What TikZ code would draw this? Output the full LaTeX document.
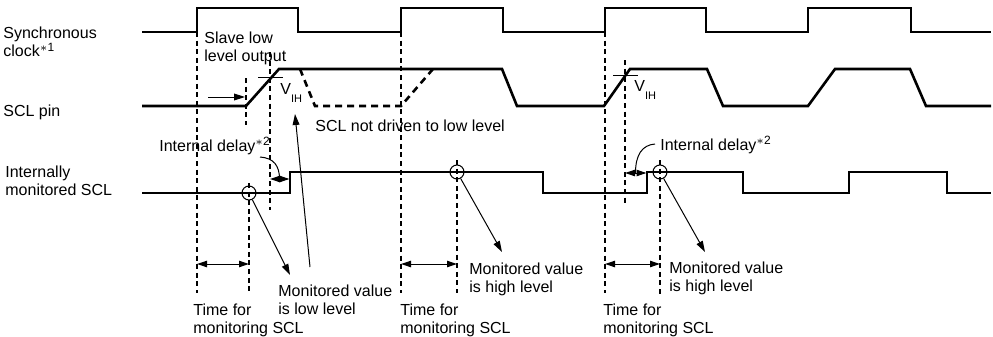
\documentclass[tikz,border=0pt]{standalone}
\usepackage{fontspec}
\setmainfont{Liberation Sans}
\usetikzlibrary{arrows.meta,positioning,calc}

\begin{document}
\begin{tikzpicture}[
  x=0.5pt, y=-0.5pt,
  lbl/.style={font=\fontsize{8}{9}\selectfont, align=left, inner sep=0pt, anchor=west},
  sig/.style={line width=1.3pt, line join=miter},
  sigdash/.style={sig, dash pattern=on 3.5pt off 2.5pt},
  guide/.style={line width=0.55pt, dash pattern=on 2.5pt off 1.8pt},
  thin/.style={line width=0.5pt},
  arr/.style={thin, -{Triangle[length=5.5pt,width=3.4pt]}},
  dbl/.style={thin, {Triangle[length=5pt,width=3.2pt]}-{Triangle[length=5pt,width=3.2pt]}},
  mon/.style={draw, circle, line width=0.5pt, minimum size=7pt, inner sep=0pt}]

\useasboundingbox (0,0) rectangle (993,337);

% signal names
\node[lbl] (clk) at (3,42) {Synchronous\\clock\textsuperscript{$\ast$1}};
\node[lbl] (pin) at (3,112) {SCL pin};
\node[lbl] (int) at (5,181) {Internally\\monitored SCL};

% waveforms
\draw[sig] (142,32) -- (197,32) -- (197,8) -- (298,8) -- (298,32) -- (401,32) -- (401,8)
  -- (503,8) -- (503,32) -- (605,32) -- (605,8) -- (706,8) -- (706,32) -- (808,32)
  -- (808,8) -- (911,8) -- (911,32) -- (991,32);
\draw[sig] (142,106) -- (246,106) -- (279,69) -- (502,69) -- (517,106) -- (604,106)
  -- (630,69) -- (707,69) -- (723,106) -- (808,106) -- (835,69) -- (910,69)
  -- (926,106) -- (991,106);
\draw[sigdash] (300,69) -- (315,106) -- (401,106) -- (433,69);
\draw[sig] (142,193) -- (290,193) -- (290,172) -- (543,172) -- (543,193) -- (647,193)
  -- (647,172) -- (743,172) -- (743,193) -- (849,193) -- (849,172) -- (947,172)
  -- (947,193) -- (991,193);

% V_IH thresholds
\draw[thin] (258,77) -- (283,77);
\draw[thin] (613,75) -- (638,75);
\node[lbl] (vih1) at (280,93) {V\raisebox{-4.3pt}{\fontsize{5.5}{6}\selectfont IH}};
\node[lbl] (vih2) at (634,90) {V\raisebox{-4.3pt}{\fontsize{5.5}{6}\selectfont IH}};

% monitoring points
\node[mon] (m1) at (249,193) {};
\node[mon] (m2) at (457,172) {};
\node[mon] (m3) at (660,172) {};

% guide lines
\draw[guide] (197,32) -- (197,293);
\draw[guide] (246,78) -- (246,125);
\draw[guide] (270,52) -- (270,210);
\draw[guide] (249,183) -- (249,293);
\draw[guide] (401,32) -- (401,293);
\draw[guide] (457,160) -- (457,293);
\draw[guide] (605,32) -- (605,293);
\draw[guide] (625,60) -- (625,203);
\draw[guide] (660,160) -- (660,297);

% texts
\node[lbl] (slave) at (204,48) {Slave low\\level output};
\node[lbl] (nodrv) at (315,126) {SCL not driven to low level};
\node[lbl] (dly1) at (159,146) {Internal delay\textsuperscript{$\ast$2}};
\node[lbl] (dly2) at (660,145) {Internal delay\textsuperscript{$\ast$2}};
\node[lbl] (tm1) at (193,320) {Time for\\monitoring SCL};
\node[lbl] (tm2) at (400,320) {Time for\\monitoring SCL};
\node[lbl] (tm3) at (603,320) {Time for\\monitoring SCL};
\node[lbl] (lo) at (278,300) {Monitored value\\is low level};
\node[lbl] (hi1) at (469,279) {Monitored value\\is high level};
\node[lbl] (hi2) at (669,278) {Monitored value\\is high level};

% arrow end points
\coordinate (sa) at (208,97);
\coordinate (sb) at (245,97);
\coordinate (ta1) at (197,264);
\coordinate (tb1) at (249,264);
\coordinate (ta2) at (401,264);
\coordinate (tb2) at (457,264);
\coordinate (ta3) at (605,264);
\coordinate (tb3) at (660,264);
\coordinate (da1) at (270,179);
\coordinate (db1) at (289.5,179);
\coordinate (da2) at (625,173);
\coordinate (db2) at (646.5,173);
\coordinate (dm1) at (279.5,179);
\coordinate (dm2) at (635.5,173);
\coordinate (ds1) at (260,157);
\coordinate (ds2) at (655,144);
\coordinate (lo1) at (290,275);
\coordinate (lo2) at (310,267);
\coordinate (up) at (295,114);
\coordinate (hiend1) at (502,252);
\coordinate (hiend2) at (705,252);

% arrows
\draw[arr] (sa) -- (sb);
\draw[dbl] (ta1) -- (tb1);
\draw[dbl] (ta2) -- (tb2);
\draw[dbl] (ta3) -- (tb3);
\draw[dbl] (da1) -- (db1);
\draw[dbl] (da2) -- (db2);
\draw[thin] (ds1) .. controls (274,158) and (279.5,166) .. (dm1);
\draw[thin] (ds2) .. controls (642,145) and (635.5,155) .. (dm2);
\draw[arr] (m1) -- (lo1);
\draw[arr] (lo2) -- (up);
\draw[arr] (m2) -- (hiend1);
\draw[arr] (m3) -- (hiend2);
\end{tikzpicture}
\end{document}
